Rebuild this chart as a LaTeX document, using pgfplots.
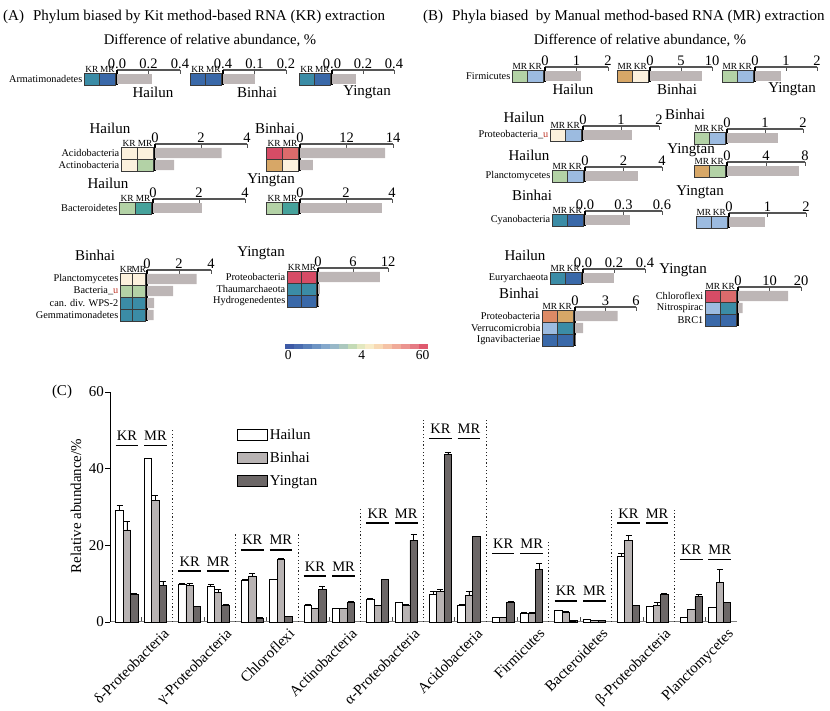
\documentclass[border=0pt]{standalone}
\usepackage{fontspec}
\setmainfont{Liberation Serif}
\usepackage{pgfplots}
\usepackage{pgfplotstable}
\pgfplotsset{compat=1.18}

\newcommand\fs[1]{\fontsize{#1}{#1}\selectfont}

\definecolor{axgray}{HTML}{555555}
\definecolor{bargray}{HTML}{BDB6B6}
\definecolor{cline}{HTML}{3A3A3A}
\definecolor{cblue}{HTML}{3A69A9}
\definecolor{cteal}{HTML}{3B8CA6}
\definecolor{cteal2}{HTML}{46A29B}
\definecolor{clblue}{HTML}{9CBBE0}
\definecolor{clgreen}{HTML}{B3D2A6}
\definecolor{ccream}{HTML}{FCF1DD}
\definecolor{ctan}{HTML}{D7A767}
\definecolor{cred}{HTML}{D74C66}
\definecolor{csalmon}{HTML}{DC6B6C}
\definecolor{corange}{HTML}{DD8A65}
\definecolor{ured}{HTML}{C0392B}
\definecolor{binc}{HTML}{B8B3B3}
\definecolor{yinc}{HTML}{6C6767}
% colour scale 0 .. 4 .. 60
\definecolor{cb0}{HTML}{3E5AA6}\definecolor{cb1}{HTML}{4A6CB0}
\definecolor{cb2}{HTML}{5A80BA}\definecolor{cb3}{HTML}{6D94C4}
\definecolor{cb4}{HTML}{84A8CC}\definecolor{cb5}{HTML}{98B8C8}
\definecolor{cb6}{HTML}{ABC8BE}\definecolor{cb7}{HTML}{C4DBB6}
\definecolor{cb8}{HTML}{E3E8C0}\definecolor{cb9}{HTML}{F8ECC8}
\definecolor{cb10}{HTML}{F8D9B4}\definecolor{cb11}{HTML}{F5C3A6}
\definecolor{cb12}{HTML}{F0AB99}\definecolor{cb13}{HTML}{EB948F}
\definecolor{cb14}{HTML}{E57B84}\definecolor{cb15}{HTML}{DF596E}

\pgfplotsset{
  blk/.style={scale only axis, enlargelimits=false, clip=false, xmin=0, ymax=0.25,
    axis x line=top, axis y line=left, axis line style={-},
    x axis line style={draw=axgray, line width=1.1pt},
    y axis line style={draw=black, line width=1.2pt},
    ytick=\empty, tick align=inside, major tick length=4pt,
    xtick style={draw=axgray, line width=1pt},
    xticklabel style={font=\fs{14.5}, inner sep=1pt}},
  cellx/.style={scale only axis, enlargelimits=false, xmin=0, xmax=2, ymax=0, axis on top,
    axis line style={draw=cline, line width=0.6pt},
    xtick={0.5,1.5}, xticklabel pos=right,
    xtick style={draw=none}, ytick style={draw=none},
    xticklabel style={font=\fs{9.3}, inner sep=0.6pt},
    yticklabel style={font=\fs{10.3}, inner sep=1.5pt}},
}

% bar part of a block: x0, axis line y (from top), width, rows, xmax, ticks, labels, bars
\newcommand{\bars}[8]{%
  \pgfmathsetmacro\bY{711-#2}%
  \pgfmathsetmacro\bH{(#4+0.25)*12}%
  \begin{axis}[blk, at={(#1pt,\bY pt)}, anchor=north west, width=#3pt, height=\bH pt,
      xmax=#5, ymin=-#4, xtick={#6}, xticklabels={#7}]
    \addplot[xbar, bar width=0.86, bar shift=0pt, fill=bargray, draw=none] coordinates {#8};
  \end{axis}}

% heat cells of a block: x0, axis line y, rows, cell width, head, extra options, rows
\newcommand{\cells}[7]{%
  \pgfmathsetmacro\cX{#1-2}%
  \pgfmathsetmacro\cY{711-#2-3}%
  \pgfmathsetmacro\cH{#3*12}%
  \pgfmathsetmacro\cW{2*#4}%
  \begin{axis}[cellx, at={(\cX pt,\cY pt)}, anchor=north east, width=\cW pt, height=\cH pt,
      ymin=-#3, xticklabels={#5}, #6]
    #7
  \end{axis}}

\newcommand{\hr}[4]{%
  \addplot[draw=cline, line width=0.5pt, fill=#3] coordinates {(0,#1) (1,#1) (1,#2) (0,#2)} -- cycle;
  \addplot[draw=cline, line width=0.5pt, fill=#4] coordinates {(1,#1) (2,#1) (2,#2) (1,#2)} -- cycle;}

\newcommand{\stn}[3]{\node[font=\fs{15}] at (#1pt,{(711-#2)*1pt}) {#3};}

\newcommand{\ul}[3]{\addplot[black, line width=1.2pt] coordinates {(#1,#3) (#2,#3)};}
\newcommand{\kl}[3]{\node[font=\fs{14.5}, anchor=base] at (axis cs:#1,#2) {#3};}
\newcommand{\sep}[2]{\addplot[dash pattern=on 1.2pt off 2.4pt, line width=1.1pt, black!85] coordinates {(#1,0) (#1,#2)};}

% relative abundance, KR and MR per phylum
\pgfplotstableread{
pos   H    He   B    Be   Y    Ye
2.7   29.0 1.4  24.0 2.2  7.2  0.2
7.25  42.6 0.0  31.6 1.4  9.6  1.0
12.7  9.9  0.2  9.5  0.5  4.0  0.1
17.25 9.2  0.7  7.8  0.8  4.3  0.2
22.7  10.8 0.4  12.0 0.6  1.0  0.1
27.25 11.0 0.2  16.4 0.2  1.4  0.1
32.7  4.3  0.4  3.6  0.1  8.4  0.8
37.25 3.6  0.0  3.6  0.0  5.2  0.1
42.7  5.9  0.3  4.2  0.2  11.1 0.1
47.25 5.0  0.2  4.2  0.3  21.3 1.5
52.7  7.3  0.6  8.0  0.6  43.8 0.5
57.25 4.4  0.1  6.9  1.0  22.2 0.2
62.7  1.1  0.1  1.2  0.1  5.1  0.4
67.25 2.3  0.1  2.3  0.1  13.8 1.5
72.7  2.9  0.1  2.5  0.2  0.3  0.0
77.25 0.6  0.0  0.5  0.0  0.4  0.0
82.7  17.2 0.6  21.2 1.3  4.3  0.1
87.25 4.1  0.1  4.4  0.8  7.3  0.2
92.7  1.2  0.1  3.3  0.1  6.6  0.5
97.25 3.9  0.0  10.4 3.3  5.0  0.2
}\relab

\begin{document}
\begin{tikzpicture}
\useasboundingbox (0,0) rectangle (830pt,711pt);

% ---------------- titles
\node[anchor=west, font=\fs{15}, inner sep=0pt] at (3pt,694pt) {(A)\hspace{9pt}Phylum biased by Kit method-based RNA (KR) extraction};
\node[font=\fs{14.7}] at (210pt,671pt) {Difference of relative abundance, \%};
\node[anchor=west, font=\fs{15}, inner sep=0pt] at (423pt,694pt) {(B)\hspace{9pt}Phyla biased\ \ by Manual method-based RNA (MR) extraction};
\node[font=\fs{14.7}] at (640pt,671pt) {Difference of relative abundance, \%};

% ---------------- panel A
\bars{117}{70}{63}{1}{0.4}{0,0.2,0.4}{0.0,0.2,0.4}{(0.22,-0.5)}
\cells{117}{70}{1}{15.5}{KR,MR}{ytick={-0.5}, yticklabels={Armatimonadetes}}{\hr{0}{-1}{cteal}{cblue}}
\stn{153}{92}{Hailun}
\bars{223}{70}{63}{1}{0.2}{0,0.1,0.2}{0.4,0.1,0.2}{(0.10,-0.5)}
\cells{223}{70}{1}{15.5}{KR,MR}{ytick=\empty}{\hr{0}{-1}{cblue}{cblue}}
\stn{257}{92}{Binhai}
\bars{332}{70}{62}{1}{0.4}{0,0.2,0.4}{0.0,0.2,0.4}{(0.155,-0.5)}
\cells{332}{70}{1}{15.5}{KR,MR}{ytick=\empty}{\hr{0}{-1}{cteal}{cblue}}
\stn{367}{92}{Yingtan}

\bars{155}{144}{92}{2}{4}{0,2,4}{0,2,4}{(2.9,-0.5) (0.83,-1.5)}
\cells{155}{144}{2}{16}{KR,MR}{ytick={-0.5,-1.5}, yticklabels={Acidobacteria,Actinobacteria}}{\hr{0}{-1}{ccream}{ccream}\hr{-1}{-2}{ccream}{clgreen}}
\stn{110}{128}{Hailun}
\bars{300}{144}{93}{2}{14}{0,7,14}{0,12,14}{(12.8,-0.5) (1.95,-1.5)}
\cells{300}{144}{2}{16}{KR,MR}{ytick=\empty}{\hr{0}{-1}{cred}{csalmon}\hr{-1}{-2}{ctan}{ccream}}
\stn{275}{128}{Binhai}

\bars{153}{199}{92}{1}{4}{0,2,4}{0,2,4}{(2.13,-0.5)}
\cells{153}{199}{1}{16}{KR,MR}{ytick={-0.5}, yticklabels={Bacteroidetes}}{\hr{0}{-1}{clgreen}{cteal2}}
\stn{108}{183}{Hailun}
\bars{300}{199}{92}{1}{4}{0,2,4}{0,2,4}{(3.57,-0.5)}
\cells{300}{199}{1}{16}{KR,MR}{ytick=\empty}{\hr{0}{-1}{clgreen}{cteal2}}
\stn{271}{180}{Yingtan}

\bars{147}{270}{64}{4}{4}{0,2,4}{0,2,4}{(3.1,-0.5) (1.63,-1.5) (0.45,-2.5) (0.42,-3.5)}
\cells{147}{270}{4}{12.5}{KR,MR}{ytick={-0.5,-1.5,-2.5,-3.5}, yticklabels={Planctomycetes,Bacteria\_\textcolor{ured}{u},can. div. WPS-2,Gemmatimonadetes}}{\hr{0}{-1}{ccream}{ccream}\hr{-1}{-2}{clgreen}{clgreen}\hr{-2}{-3}{cteal}{cteal}\hr{-3}{-4}{cteal}{cteal}}
\stn{95}{255}{Binhai}
\bars{318}{268}{70}{3}{12}{0,6,12}{0,6,12}{(10.6,-0.5) (0.3,-1.5) (0.2,-2.5)}
\cells{318}{268}{3}{14.5}{KR,MR}{ytick={-0.5,-1.5,-2.5}, yticklabels={Proteobacteria,Thaumarchaeota,Hydrogenedentes}}{\hr{0}{-1}{cred}{cred}\hr{-1}{-2}{cteal}{cteal}\hr{-2}{-3}{cblue}{cblue}}
\stn{261}{253}{Yingtan}

% colour scale
\begin{axis}[at={(285pt,367pt)}, anchor=north west, scale only axis, width=143pt, height=5pt,
    xmin=0, xmax=16, ymin=0, ymax=1, enlargelimits=false, axis line style={draw=none},
    xtick={0.35,8.6,15.4}, xticklabels={0,4,60}, ytick=\empty, xtick style={draw=none},
    xticklabel style={font=\fs{13.5}, inner sep=1pt}]
  \addplot[ybar, bar width=1, bar shift=0pt, fill=cb0, draw=none] coordinates {(0.5,1)};
  \addplot[ybar, bar width=1, bar shift=0pt, fill=cb1, draw=none] coordinates {(1.5,1)};
  \addplot[ybar, bar width=1, bar shift=0pt, fill=cb2, draw=none] coordinates {(2.5,1)};
  \addplot[ybar, bar width=1, bar shift=0pt, fill=cb3, draw=none] coordinates {(3.5,1)};
  \addplot[ybar, bar width=1, bar shift=0pt, fill=cb4, draw=none] coordinates {(4.5,1)};
  \addplot[ybar, bar width=1, bar shift=0pt, fill=cb5, draw=none] coordinates {(5.5,1)};
  \addplot[ybar, bar width=1, bar shift=0pt, fill=cb6, draw=none] coordinates {(6.5,1)};
  \addplot[ybar, bar width=1, bar shift=0pt, fill=cb7, draw=none] coordinates {(7.5,1)};
  \addplot[ybar, bar width=1, bar shift=0pt, fill=cb8, draw=none] coordinates {(8.5,1)};
  \addplot[ybar, bar width=1, bar shift=0pt, fill=cb9, draw=none] coordinates {(9.5,1)};
  \addplot[ybar, bar width=1, bar shift=0pt, fill=cb10, draw=none] coordinates {(10.5,1)};
  \addplot[ybar, bar width=1, bar shift=0pt, fill=cb11, draw=none] coordinates {(11.5,1)};
  \addplot[ybar, bar width=1, bar shift=0pt, fill=cb12, draw=none] coordinates {(12.5,1)};
  \addplot[ybar, bar width=1, bar shift=0pt, fill=cb13, draw=none] coordinates {(13.5,1)};
  \addplot[ybar, bar width=1, bar shift=0pt, fill=cb14, draw=none] coordinates {(14.5,1)};
  \addplot[ybar, bar width=1, bar shift=0pt, fill=cb15, draw=none] coordinates {(15.5,1)};
\end{axis}

% ---------------- panel B
\bars{545}{67}{63}{1}{2}{0,1,2}{0,1,2}{(1.14,-0.5)}
\cells{545}{67}{1}{15.5}{MR,KR}{ytick={-0.5}, yticklabels={Firmicutes}}{\hr{0}{-1}{clgreen}{clblue}}
\stn{573}{89}{Hailun}
\bars{650}{67}{62}{1}{10}{0,5,10}{0,5,10}{(8.4,-0.5)}
\cells{650}{67}{1}{15.5}{MR,KR}{ytick=\empty}{\hr{0}{-1}{ctan}{ccream}}
\stn{677}{89}{Binhai}
\bars{755}{67}{62}{1}{2}{0,1,2}{0,1,2}{(0.84,-0.5)}
\cells{755}{67}{1}{15.5}{MR,KR}{ytick=\empty}{\hr{0}{-1}{clgreen}{clblue}}
\stn{792}{89}{Yingtan}

\bars{583}{126}{76}{1}{2}{0,1,2}{0,1,2}{(1.29,-0.5)}
\cells{583}{126}{1}{15.5}{MR,KR}{ytick={-0.5}, yticklabels={Proteobacteria\_\textcolor{ured}{u}}}{\hr{0}{-1}{ccream}{clblue}}
\stn{524}{117}{Hailun}
\bars{727}{129}{76}{1}{2}{0,1,2}{0,1,2}{(1.34,-0.5)}
\cells{727}{129}{1}{15.5}{MR,KR}{ytick=\empty}{\hr{0}{-1}{clgreen}{clblue}}
\stn{685}{114}{Binhai}

\bars{585}{167}{77}{1}{4}{0,2,4}{0,2,4}{(2.75,-0.5)}
\cells{585}{167}{1}{15.5}{MR,KR}{ytick={-0.5}, yticklabels={Planctomycetes}}{\hr{0}{-1}{clgreen}{clblue}}
\stn{529}{155}{Hailun}
\bars{727}{162}{78}{1}{8}{0,4,8}{0,4,8}{(7.4,-0.5)}
\cells{727}{162}{1}{15.5}{MR,KR}{ytick=\empty}{\hr{0}{-1}{ctan}{clgreen}}
\stn{691}{150}{Yingtan}

\bars{585}{211}{77}{1}{0.6}{0,0.3,0.6}{0.0,0.3,0.6}{(0.35,-0.5)}
\cells{585}{211}{1}{15.5}{MR,KR}{ytick={-0.5}, yticklabels={Cyanobacteria}}{\hr{0}{-1}{cteal}{cblue}}
\stn{532}{195}{Binhai}
\bars{729}{213}{77}{1}{2}{0,1,2}{0,1,2}{(0.93,-0.5)}
\cells{729}{213}{1}{15.5}{MR,KR}{ytick=\empty}{\hr{0}{-1}{clblue}{clblue}}
\stn{700}{192}{Yingtan}

\bars{583}{269}{62}{1}{0.4}{0,0.2,0.4}{0.0,0.2,0.4}{(0.2,-0.5)}
\cells{583}{269}{1}{15.5}{MR,KR}{ytick={-0.5}, yticklabels={Euryarchaeota}}{\hr{0}{-1}{cteal}{cblue}}
\stn{525}{255}{Hailun}

\bars{575}{307}{61}{3}{6}{0,3,6}{0,3,6}{(4.2,-0.5) (0.8,-1.5) (0.05,-2.5)}
\cells{575}{307}{3}{15.5}{MR,KR}{ytick={-0.5,-1.5,-2.5}, yticklabels={Proteobacteria,Verrucomicrobia,Ignavibacteriae}}{\hr{0}{-1}{corange}{ctan}\hr{-1}{-2}{clblue}{cteal}\hr{-2}{-3}{cblue}{cblue}}
\stn{519}{293}{Binhai}
\bars{738}{287}{63}{3}{20}{0,10,20}{0,10,20}{(15.9,-0.5) (1.5,-1.5) (0.05,-2.5)}
\cells{738}{287}{3}{15.5}{MR,KR}{ytick={-0.5,-1.5,-2.5}, yticklabels={Chloroflexi,Nitrospirac,BRC1}}{\hr{0}{-1}{cred}{csalmon}\hr{-1}{-2}{clblue}{cteal}\hr{-2}{-3}{cblue}{cblue}}
\stn{683}{270}{Yingtan}

% ---------------- panel C
\node[font=\fs{15}] at (62pt,319pt) {(C)};
\node[font=\fs{15}, rotate=90] at (76pt,205pt) {Relative abundance/\%};

\begin{axis}[at={(110pt,89pt)}, anchor=south west, scale only axis, width=627pt, height=230pt,
    xmin=0, xmax=100, ymin=0, ymax=60, enlargelimits=false, clip=false,
    axis x line=bottom, axis y line=left, axis line style={-},
    x axis line style={draw=black!50, line width=1pt},
    y axis line style={draw=black, line width=0.9pt},
    tick align=center, major tick length=5pt,
    ytick={0,20,40,60}, ytick style={xshift=-2.5pt, draw=black, line width=0.9pt},
    xtick={5,15,...,95}, xtick style={yshift=2.5pt, draw=black!70, line width=0.9pt},
    xticklabels={δ-Proteobacteria,γ-Proteobacteria,Chloroflexi,Actinobacteria,α-Proteobacteria,Acidobacteria,Firmicutes,Bacteroidetes,β-Proteobacteria,Planctomycetes},
    xticklabel style={xshift=21pt, yshift=-2pt, rotate=45, anchor=north east, font=\fs{15}, inner sep=0.5pt},
    yticklabel style={font=\fs{15}},
    /pgf/number format/assume math mode=true,
    legend style={at={(axis cs:20.2,51)}, anchor=north west, draw=none, fill=none,
      font=\fs{15}, row sep=7.5pt, inner sep=0pt},
    legend cell align=left]
  \addplot[ybar, bar width=1.18, bar shift=0pt, fill=white, draw=black, line width=0.8pt,
      legend image code/.code={\draw[fill=white, draw=black, line width=0.9pt] (0pt,-5.5pt) rectangle (30pt,5.5pt);},
      error bars/.cd, y dir=plus, y explicit,
      error bar style={black, line width=0.6pt},
      error mark options={rotate=90, mark size=3pt, black, line width=0.6pt}]
    table[x expr=\thisrow{pos}-1.18, y=H, y error=He] {\relab};
  \addlegendentry{Hailun}
  \addplot[ybar, bar width=1.18, bar shift=0pt, fill=binc, draw=black, line width=0.8pt,
      legend image code/.code={\draw[fill=binc, draw=black, line width=0.9pt] (0pt,-5.5pt) rectangle (30pt,5.5pt);},
      error bars/.cd, y dir=plus, y explicit,
      error bar style={black, line width=0.6pt},
      error mark options={rotate=90, mark size=3pt, black, line width=0.6pt}]
    table[x=pos, y=B, y error=Be] {\relab};
  \addlegendentry{Binhai}
  \addplot[ybar, bar width=1.18, bar shift=0pt, fill=yinc, draw=black, line width=0.8pt,
      legend image code/.code={\draw[fill=yinc, draw=black, line width=0.9pt] (0pt,-5.5pt) rectangle (30pt,5.5pt);},
      error bars/.cd, y dir=plus, y explicit,
      error bar style={black, line width=0.6pt},
      error mark options={rotate=90, mark size=3pt, black, line width=0.6pt}]
    table[x expr=\thisrow{pos}+1.18, y=Y, y error=Ye] {\relab};
  \addlegendentry{Yingtan}

  \sep{10}{50}\sep{20}{23}\sep{30}{23}\sep{40}{30}\sep{50}{52.7}
  \sep{60}{52.7}\sep{70}{21.4}\sep{80}{29.2}\sep{90}{29.2}

  \ul{0.9}{4.5}{46.0}\ul{5.45}{9.05}{46.0}
  \ul{10.9}{14.5}{13.3}\ul{15.45}{19.05}{13.3}
  \ul{20.9}{24.5}{18.8}\ul{25.45}{29.05}{18.8}
  \ul{30.9}{34.5}{12.0}\ul{35.45}{39.05}{12.0}
  \ul{40.9}{44.5}{25.8}\ul{45.45}{49.05}{25.8}
  \ul{50.9}{54.5}{47.8}\ul{55.45}{59.05}{47.8}
  \ul{60.9}{64.5}{17.8}\ul{65.45}{69.05}{17.8}
  \ul{70.9}{74.5}{5.5}\ul{75.45}{79.05}{5.5}
  \ul{80.9}{84.5}{25.8}\ul{85.45}{89.05}{25.8}
  \ul{90.9}{94.5}{16.4}\ul{95.45}{99.05}{16.4}

  \kl{2.7}{47.3}{KR}\kl{7.25}{47.3}{MR}
  \kl{12.7}{14.6}{KR}\kl{17.25}{14.6}{MR}
  \kl{22.7}{20.1}{KR}\kl{27.25}{20.1}{MR}
  \kl{32.7}{13.3}{KR}\kl{37.25}{13.3}{MR}
  \kl{42.7}{27.1}{KR}\kl{47.25}{27.1}{MR}
  \kl{52.7}{49.1}{KR}\kl{57.25}{49.1}{MR}
  \kl{62.7}{19.1}{KR}\kl{67.25}{19.1}{MR}
  \kl{72.7}{6.8}{KR}\kl{77.25}{6.8}{MR}
  \kl{82.7}{27.1}{KR}\kl{87.25}{27.1}{MR}
  \kl{92.7}{17.7}{KR}\kl{97.25}{17.7}{MR}
\end{axis}
\end{tikzpicture}
\end{document}
